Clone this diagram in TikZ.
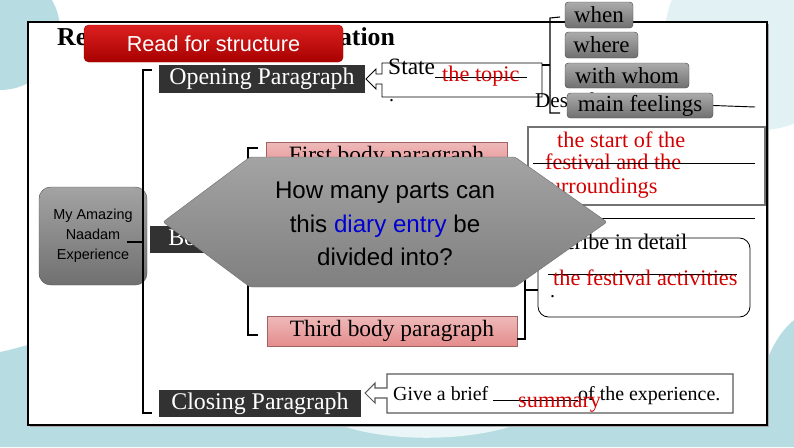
\documentclass[tikz,border=0pt]{standalone}
\usepackage{fontspec}
\setmainfont{Liberation Serif}
\setsansfont{Liberation Sans}
\usetikzlibrary{positioning}
\definecolor{bgteal}{RGB}{183,221,226}
\definecolor{paleteal}{RGB}{226,241,243}
\definecolor{darkhead}{RGB}{50,50,50}
\definecolor{answer}{RGB}{210,0,0}
\definecolor{pinkbox}{RGB}{228,140,140}
\definecolor{question}{RGB}{0,0,210}
\definecolor{redtop}{RGB}{220,32,32}
\definecolor{redbottom}{RGB}{168,0,0}
\newcommand{\fsz}[2]{\fontsize{#1}{#2}\selectfont}
\tikzset{
  wh/.style 2 args={minimum width=#1*0.03cm, minimum height=#2*0.03cm},
  heading/.style={fill=darkhead, text=white, inner sep=0pt, font=\fsz{20.4pt}{24pt}},
  bodypara/.style={top color=pinkbox!60, bottom color=pinkbox, draw=pinkbox!70!black, inner sep=0pt, font=\fsz{20pt}{24pt}},
  choice/.style={rounded corners=3pt, top color=black!33, bottom color=black!56, draw=black!70, inner sep=0pt, font=\fsz{19.6pt}{22pt}},
  plaintext/.style={inner sep=0pt, anchor=base west, font=\fsz{17pt}{20pt}},
  answertext/.style={plaintext, text=answer, font=\fsz{19pt}{22pt}},
  bracket/.style={line width=0.9pt},
  blank/.style={line width=0.8pt}
}

\begin{document}
\begin{tikzpicture}[x=0.03cm, y=-0.03cm]
	\useasboundingbox (0,0) rectangle (794,447);
	
	% background
	\begin{scope}
	\clip (0,0) rectangle (794,447);
	\fill[white] (0,0) rectangle (794,447);
	\fill[paleteal] (760,35) circle[radius=95];
	\fill[bgteal] (0,30) circle[radius=60];
	\fill[bgteal] (0,447) -- (0,352) .. controls (10,350) and (20,347) .. (28,345) -- (28,425) -- (767,425) -- (767,360) .. controls (774,342) and (784,328) .. (794,320) -- (794,447) -- cycle;
	\fill[white!70!bgteal] (340,425) .. controls (390,443) and (470,441) .. (515,425) -- cycle;
	\end{scope}
	
	% frame
	\fill[black!35] (30,24) rectangle (769,427);
	\draw[fill=white, line width=1.3pt] (28,22) rectangle (767,425);
	
	% title
	\node[anchor=base west, inner sep=0pt, font=\bfseries\fsz{22pt}{26pt}] (title) at (57,45) {Reading for Text Organization};
	\node[rounded corners=4pt, top color=redtop, bottom color=redbottom, draw=redbottom, text=white, wh={259}{37}, inner sep=0pt, font=\sffamily\fsz{18.5pt}{20pt}] (readbox) at (213.5,43.5) {Read for structure};
	
	% Opening
	\node[heading, wh={206}{28}] (open) at (262,79) {Opening Paragraph};
	\draw[fill=white, line width=0.7pt] (382,63) -- (382,74) -- (376,74) -- (376,69) -- (366,79) -- (376,89) -- (376,84) -- (382,84) -- (382,97) -- (542,97) -- (542,63) -- cycle;
	\coordinate (statebox) at (542,65);
	\node[plaintext, font=\fsz{20pt}{22pt}] (state) at (388,74) {State};
	\draw[blank] (435,77) -- (527,77);
	\node[answertext] (topic) at (442,81) {the topic};
	\node[plaintext] (dot1) at (389,101) {.};
	\node[plaintext, font=\fsz{18pt}{20pt}] (describe) at (535,107) {Describe};
	
	% when / where / with whom / main feelings
	\draw[bracket] (560,17) -- (550,18) -- (550,113) -- (560,113);
	\draw[bracket] (550,65) -- (statebox);
	\node[choice, wh={68}{26}] (when) at (599,15) {when};
	\node[choice, wh={73}{26}] (where) at (601.5,45) {where};
	\node[choice, wh={124}{25}] (whom) at (627,75.5) {with whom};
	\node[choice, wh={146}{25}] (feel) at (640,105.5) {main feelings};
	\draw[blank] (feel.east) -- (755,107);
	
	% first body answer
	\draw[draw=black!55, line width=1pt] (528,127) rectangle (765,205);
	\node[answertext] (start1) at (557,147) {the start of the};
	\node[answertext] (start2) at (545,169) {festival and the};
	\node[answertext] (start3) at (541,193) {surroundings};
	\draw[blank] (533,163) -- (755,163);
	\draw[blank] (535,218) -- (755,218);
	
	% second body answer
	\draw[line width=0.7pt, rounded corners=9pt] (538,238) rectangle (750,317);
	\node[plaintext, font=\fsz{19pt}{21pt}] (detail) at (530,249) {Describe in detail};
	\draw[blank] (548,274) -- (737,274);
	\node[answertext] (activity) at (553,285) {the festival activities};
	\node[plaintext] (dot2) at (550,297) {.};
	
	% left bracket
	\node[rounded corners=10pt, top color=black!36, bottom color=black!56, draw=black!65, wh={108}{98}, inner sep=0pt, align=center, font=\sffamily\fsz{12.3pt}{17pt}] (exp) at (93,236) {My Amazing\\Naadam\\Experience};
	\draw[bracket] (152,70) -- (143,70) -- (143,413) -- (152,413);
	\coordinate (lbr) at (143,242);
	\draw[bracket] (lbr) -- ++(-16,0);
	
	% Body
	\node[heading, wh={200}{27}, anchor=west] (body) at (150,239.5) {Body Paragraphs};
	\draw[bracket] (258,148) -- (248,148) -- (248,335) -- (258,335);
	\node[bodypara, wh={241}{30}] (first) at (386.5,157) {First body paragraph};
	\node[bodypara, wh={250}{30}] (third) at (392,331) {Third body paragraph};
	\draw[bracket] (516,240) -- (525,240) -- (525,339) -- (517,339);
	\coordinate (rbr) at (525,290);
	\draw[bracket] (rbr) -- (538,290);
	
	% question
	\path[rounded corners=2pt, top color=black!36, bottom color=black!50, draw=black!55] (163,222) -- (250,157) -- (515,157) -- (607,222) -- (515,287) -- (250,287) -- cycle;
	\node[align=center, inner sep=0pt, font=\sffamily\fsz{20.6pt}{28.5pt}] (ask) at (385,224) {How many parts can\\this \textcolor{question}{diary entry} be\\divided into?};
	
	% Closing
	\node[heading, wh={202}{27}] (close) at (260,403.5) {Closing Paragraph};
	\draw[fill=white, draw=black!65, line width=0.9pt] (387,374) -- (387,388) -- (375,388) -- (375,383) -- (365,393) -- (375,403) -- (375,398) -- (387,398) -- (387,413) -- (733,413) -- (733,374) -- cycle;
	\node[plaintext] (brief) at (393,400) {Give a brief};
	\draw[blank] (493,400) -- (578,400);
	\node[plaintext] (exper) at (578,400) {of the experience.};
	\node[answertext] (summary) at (518,407) {summary};

\end{tikzpicture}
\end{document}
